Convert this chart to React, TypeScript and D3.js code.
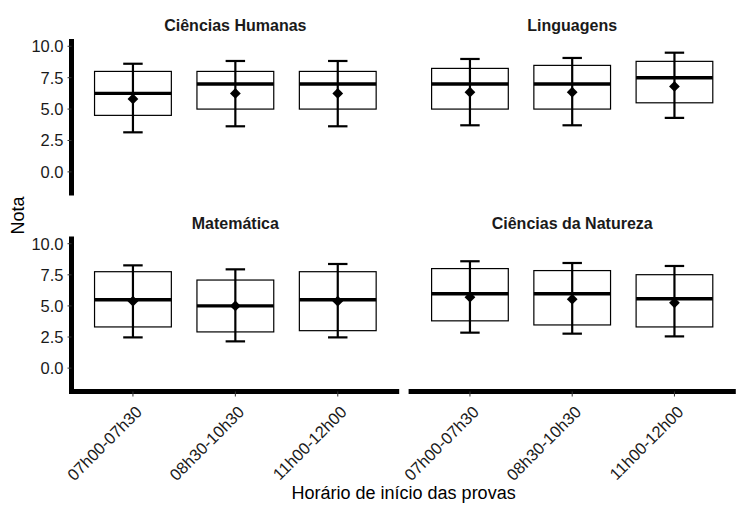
import React from "react";
import * as d3 from "d3";

const categories = ["07h00-07h30", "08h30-10h30", "11h00-12h00"];
const subjects = ["Ciências Humanas", "Linguagens", "Matemática", "Ciências da Natureza"];
const yTicks = [0, 2.5, 5, 7.5, 10];

const q1 = [
  [4.5, 5.0, 5.0],
  [5.0, 5.0, 5.5],
  [3.31, 2.91, 3.01],
  [3.8, 3.47, 3.31],
];
const median = [
  [6.25, 7.0, 7.0],
  [7.0, 7.0, 7.5],
  [5.49, 5.0, 5.49],
  [5.98, 5.98, 5.57],
];
const q3 = [
  [8.0, 8.0, 8.0],
  [8.24, 8.48, 8.8],
  [7.75, 7.08, 7.75],
  [8.0, 7.84, 7.51],
];
const mean = [
  [5.81, 6.25, 6.25],
  [6.35, 6.35, 6.8],
  [5.38, 5.0, 5.38],
  [5.7, 5.54, 5.25],
];
const lower = [
  [3.15, 3.63, 3.63],
  [3.71, 3.71, 4.3],
  [2.47, 2.15, 2.47],
  [2.85, 2.77, 2.55],
];
const upper = [
  [8.61, 8.83, 8.83],
  [8.99, 9.07, 9.49],
  [8.26, 7.94, 8.37],
  [8.59, 8.45, 8.21],
];

const FONT = "'Liberation Sans', Arial, Helvetica, sans-serif";
const yDomain: [number, number] = [-1.88, 10.58];
const colX = [
  [71.5, 399.2],
  [408.6, 735.8],
];
const rowY = [
  [39, 195.5],
  [236.5, 391.5],
];

const diamond = d3.symbol().type(d3.symbolSquare).size(58)();

function Panel({ idx }: { idx: number }) {
  const col = idx % 2;
  const row = Math.floor(idx / 2);
  const [x0, x1] = colX[col];
  const [yt, yb] = rowY[row];
  const x = d3.scalePoint<string>().domain(categories).range([x0, x1]).padding(0.6);
  const y = d3.scaleLinear().domain(yDomain).range([yb, yt]);
  const step = x.step();
  const boxW = step * 0.75;
  const capW = step * 0.19;
  return (
    <g>
      <text
        x={(x0 + x1) / 2}
        y={yt - 8}
        textAnchor="middle"
        fontFamily={FONT}
        fontWeight="bold"
        fontSize={16}
        fill="#1a1a1a"
      >
        {subjects[idx]}
      </text>
      {categories.map((c, i) => {
        const cx = x(c)!;
        return (
          <g key={c}>
            <rect
              x={cx - boxW / 2}
              y={y(q3[idx][i])}
              width={boxW}
              height={y(q1[idx][i]) - y(q3[idx][i])}
              fill="none"
              stroke="#000"
              strokeWidth={1.2}
            />
            <line x1={cx} x2={cx} y1={y(lower[idx][i])} y2={y(upper[idx][i])} stroke="#000" strokeWidth={2.2} />
            <line x1={cx - capW / 2} x2={cx + capW / 2} y1={y(lower[idx][i])} y2={y(lower[idx][i])} stroke="#000" strokeWidth={2.2} />
            <line x1={cx - capW / 2} x2={cx + capW / 2} y1={y(upper[idx][i])} y2={y(upper[idx][i])} stroke="#000" strokeWidth={2.2} />
            <line x1={cx - boxW / 2} x2={cx + boxW / 2} y1={y(median[idx][i])} y2={y(median[idx][i])} stroke="#000" strokeWidth={3.4} />
            <path d={diamond!} transform={`translate(${cx},${y(mean[idx][i])}) rotate(45)`} fill="#000" />
          </g>
        );
      })}
      {col === 0 && (
        <g>
          <line x1={x0} x2={x0} y1={yt} y2={row === 1 ? yb + 2.5 : yb} stroke="#000" strokeWidth={5} />
          {yTicks.map((t) => (
            <g key={t}>
              <line x1={x0 - 4} x2={x0} y1={y(t)} y2={y(t)} stroke="#333" strokeWidth={1} />
              <text
                x={x0 - 8}
                y={y(t)}
                dy="0.36em"
                textAnchor="end"
                fontFamily={FONT}
                fontSize={16.5}
                fill="#1a1a1a"
              >
                {t.toFixed(1)}
              </text>
            </g>
          ))}
        </g>
      )}
      {row === 1 && (
        <g>
          <line x1={col === 0 ? x0 - 2.5 : x0} x2={x1} y1={yb} y2={yb} stroke="#000" strokeWidth={5} />
          {categories.map((c) => {
            const cx = x(c)!;
            const ex = cx + 10;
            const ey = yb + 21.5;
            return (
              <g key={c}>
                <line x1={cx} x2={cx} y1={yb} y2={yb + 5} stroke="#333" strokeWidth={1} />
                <text
                  x={ex}
                  y={ey}
                  textAnchor="end"
                  transform={`rotate(-45,${ex},${ey})`}
                  fontFamily={FONT}
                  fontSize={16.5}
                  fill="#1a1a1a"
                >
                  {c}
                </text>
              </g>
            );
          })}
        </g>
      )}
    </g>
  );
}

export default function App() {
  return (
    <svg
      width={745}
      height={512}
      style={{ position: "absolute", left: 0, top: 0, background: "#fff" }}
    >
      <rect width={745} height={512} fill="#fff" />
      {subjects.map((s, i) => (
        <Panel key={s} idx={i} />
      ))}
      <text
        transform="translate(24,215.5) rotate(-90)"
        textAnchor="middle"
        fontFamily={FONT}
        fontSize={18}
        fill="#000"
      >
        Nota
      </text>
      <text x={403.6} y={499} textAnchor="middle" fontFamily={FONT} fontSize={18} fill="#000">
        Horário de início das provas
      </text>
    </svg>
  );
}
